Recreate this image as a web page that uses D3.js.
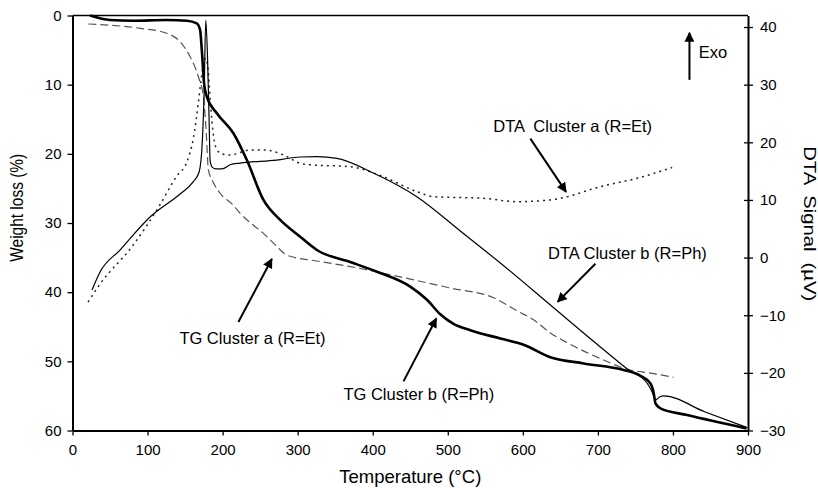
<!DOCTYPE html>
<html>
<head>
<meta charset="utf-8">
<script src="https://cdn.jsdelivr.net/npm/d3@7"></script>
<style>
  body { margin: 0; background: #fff; }
  svg { font-family: "Liberation Sans", Arial, sans-serif; }
  text { white-space: pre; fill: #000; }
</style>
</head>
<body>
<div id="chart"></div>
<script>
// TG Cluster b (R=Ph), weight loss %
var tgB_T = [23.3, 50, 80.7, 125.6, 152.3, 165.6, 170, 172.3, 175.3, 179, 192.3, 214.4, 232.3, 254.4, 276.7, 303.3, 325.6, 370, 405.6, 450, 472.3, 490, 507.7, 530, 570, 601, 636.7, 681, 734.4, 756.7, 770, 774.4, 776.7, 783.3, 819, 898];
var tgB_W = [0, 0.65, 0.75, 0.65, 0.75, 1.13, 2.1, 5, 9.8, 11.74, 14.14, 17.03, 20.9, 26.67, 29.56, 31.98, 33.9, 35.64, 37.04, 39.2, 41.1, 43.2, 44.6, 45.5, 46.7, 47.6, 49.4, 50.3, 51.25, 52.1, 53.2, 54.6, 56.07, 56.8, 57.76, 59.7];

// TG Cluster a (R=Et), weight loss %
var tgA_T = [21.1, 90, 125.6, 143.3, 156.7, 167.7, 174.4, 178, 181.1, 187.3, 196.7, 214, 223.3, 240.7, 254.4, 272.3, 283.3, 296.7, 316.7, 370, 436.7, 503.3, 561, 592.3, 614.4, 636.7, 659, 703.3, 739, 770, 801];
var tgA_W = [1.23, 1.85, 2.57, 3.79, 5.96, 8.85, 11.74, 16.55, 22.34, 24.07, 25.7, 27.4, 28.6, 30.3, 31.5, 33.4, 34.5, 35, 35.35, 36.3, 37.8, 39.4, 40.8, 42.7, 44, 45.9, 47.3, 49.6, 51.15, 51.7, 52.3];

// DTA Cluster b (R=Ph), µV
var dtaB_T = [26, 36.7, 63.3, 103.3, 143.3, 160.7, 168.7, 172.7, 175.3, 177.6, 180, 182, 183.3, 186, 191.3, 199.3, 210, 223.3, 272, 303, 325.6, 352.3, 400.7, 459.3, 516.7, 570, 636.7, 703.3, 739.3, 765.6, 772.3, 776.7, 783.3, 787.8, 843, 899];
var dtaB_D = [-5.62, -2.5, 1.31, 7.04, 11.03, 13.12, 14.85, 19.53, 28.2, 41.2, 34.3, 23.9, 16.9, 15.7, 15.4, 15.4, 16.1, 16.4, 16.9, 17.45, 17.5, 17.2, 14.67, 10.51, 4.61, -0.94, -8.23, -15.5, -19.33, -21.8, -23.3, -24.7, -24.1, -24.0, -26.8, -29.5];

// DTA Cluster a (R=Et), µV
var dtaA_T = [20.7, 36.7, 78.9, 114, 138.9, 152.3, 161.1, 167.3, 171.3, 174.7, 177.3, 180.7, 184, 187.7, 192.7, 199.3, 210, 236.7, 256.7, 281, 303.3, 316.7, 370, 414, 459, 481, 548, 592, 636.7, 650, 703, 752, 799];
var dtaA_D = [-7.71, -4.58, 1.84, 8.6, 14.15, 16.58, 20.75, 26.47, 30.8, 33.58, 34.62, 32.54, 26.47, 21.27, 18.66, 17.97, 17.8, 18.66, 18.66, 17.8, 16.36, 16.1, 15.77, 14.03, 11.43, 10.56, 10.28, 9.7, 10, 10.28, 12.3, 13.75, 15.63];

var xTicks = [0, 100, 200, 300, 400, 500, 600, 700, 800, 900];
var wTicks = [0, 10, 20, 30, 40, 50, 60];
var dTicks = [-30, -20, -10, 0, 10, 20, 30, 40];

var margin = {top: 15.5, right: 70, bottom: 57.5, left: 72.5},
    width = 818 - margin.left - margin.right,
    height = 488 - margin.top - margin.bottom;

var svg = d3.select("#chart").append("svg")
    .attr("width", 818)
    .attr("height", 488)
    .append("g")
    .attr("transform", "translate(" + margin.left + "," + margin.top + ")");

var x = d3.scaleLinear().domain([0, 900]).range([0, width]);
var yW = d3.scaleLinear().domain([0, 60]).range([0, height]);
var yD = d3.scaleLinear().domain([-30, 42]).range([height, 0]);

svg.append("defs").append("marker")
    .attr("id", "head")
    .attr("viewBox", "0 0 10 10")
    .attr("refX", 9).attr("refY", 5)
    .attr("markerWidth", 5).attr("markerHeight", 5)
    .attr("markerUnits", "strokeWidth")
    .attr("orient", "auto")
    .append("path")
    .attr("d", "M0,0 L10,5 L0,10 z")
    .attr("fill", "#000");

// top border
svg.append("line")
    .attr("x1", 0).attr("x2", width)
    .attr("y1", 0).attr("y2", 0)
    .attr("stroke", "#000").attr("stroke-width", 1.5);

// x axis
var gx = svg.append("g")
    .attr("transform", "translate(0," + height + ")")
    .call(d3.axisBottom(x).tickValues(xTicks).tickSize(5).tickPadding(9).tickSizeOuter(0));
// left axis
var gl = svg.append("g")
    .call(d3.axisLeft(yW).tickValues(wTicks).tickSize(5).tickPadding(6).tickSizeOuter(0));
// right axis, ticks cross the line
var gr = svg.append("g")
    .attr("transform", "translate(" + width + ",0)")
    .call(d3.axisRight(yD).tickValues(dTicks).tickSize(5).tickPadding(7).tickSizeOuter(0));
gr.selectAll(".tick line").attr("x1", -4);

[gx, gl, gr].forEach(function (g) {
    g.select(".domain").attr("stroke-width", 2);
    g.selectAll(".tick line").attr("stroke-width", 1.3);
    g.selectAll(".tick text").attr("font-size", 15).attr("font-family", null);
});

function zip(a, b) { return a.map(function (v, i) { return [v, b[i]]; }); }

var lineW = d3.line().x(function (d) { return x(d[0]); }).y(function (d) { return yW(d[1]); }).curve(d3.curveMonotoneX);
var lineD = d3.line().x(function (d) { return x(d[0]); }).y(function (d) { return yD(d[1]); }).curve(d3.curveMonotoneX);

svg.append("path").datum(zip(dtaA_T, dtaA_D))
    .attr("d", lineD).attr("fill", "none")
    .attr("stroke", "#222").attr("stroke-width", 1.5).attr("stroke-dasharray", "2,4");

svg.append("path").datum(zip(tgA_T, tgA_W))
    .attr("d", lineW).attr("fill", "none")
    .attr("stroke", "#555").attr("stroke-width", 1.2).attr("stroke-dasharray", "8,4");

svg.append("path").datum(zip(dtaB_T, dtaB_D))
    .attr("d", lineD).attr("fill", "none")
    .attr("stroke", "#000").attr("stroke-width", 1.2);

svg.append("path").datum(zip(tgB_T, tgB_W))
    .attr("d", lineW).attr("fill", "none")
    .attr("stroke", "#000").attr("stroke-width", 2.6);

// annotations, positioned in temperature / weight-loss units
var notes = [
    {text: "DTA  Cluster a (R=Et)", tx: 560.7, ty: 16.8, from: [610, 17.8], to: [657.6, 25.5]},
    {text: "DTA Cluster b (R=Ph)", tx: 633.6, ty: 35.2, from: [696.7, 35.9], to: [646.4, 41.4]},
    {text: "TG Cluster a (R=Et)", tx: 142.4, ty: 47.5, from: [221, 44.3], to: [265.6, 35.2]},
    {text: "TG Cluster b (R=Ph)", tx: 361, ty: 55.6, from: [441, 52.9], to: [484.7, 43.8]},
    {text: "Exo", tx: 834.4, ty: 6.2, from: [822, 9.3], to: [822, 2.5]}
];
notes.forEach(function (n) {
    svg.append("text")
        .attr("x", x(n.tx)).attr("y", yW(n.ty))
        .attr("font-size", 16.5)
        .text(n.text);
    svg.append("line")
        .attr("x1", x(n.from[0])).attr("y1", yW(n.from[1]))
        .attr("x2", x(n.to[0])).attr("y2", yW(n.to[1]))
        .attr("stroke", "#000").attr("stroke-width", 2)
        .attr("marker-end", "url(#head)");
});

// axis titles
svg.append("text")
    .attr("transform", "translate(" + (width / 2) + "," + (height + 52.5) + ")")
    .attr("text-anchor", "middle").attr("font-size", 18.5)
    .text("Temperature (°C)");
svg.append("text")
    .attr("transform", "translate(" + (-49.5) + "," + (yW(27.8)) + ") rotate(-90)")
    .attr("text-anchor", "middle").attr("font-size", 18)
    .attr("textLength", 108).attr("lengthAdjust", "spacingAndGlyphs")
    .text("Weight loss (%)");
svg.append("text")
    .attr("transform", "translate(" + (width + 56) + "," + (yW(30.1)) + ") rotate(90)")
    .attr("text-anchor", "middle").attr("font-size", 17)
    .attr("textLength", 155).attr("lengthAdjust", "spacingAndGlyphs")
    .text("DTA  Signal  (µV)");
</script>
</body>
</html>
